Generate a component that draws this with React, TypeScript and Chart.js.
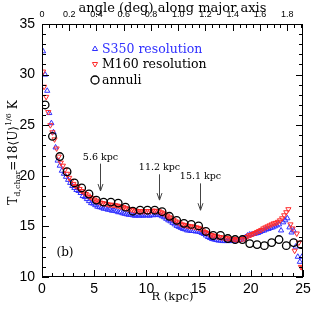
import React, { useEffect, useRef } from 'react';
import { Chart, registerables } from 'chart.js';
import { drawPoint } from 'chart.js/helpers';
Chart.register(...registerables);

// ---------- data ----------
const s350R = [
  0.1, 0.3, 0.5, 0.7, 0.9, 1.1, 1.3, 1.5, 1.7, 1.9,
  2.1, 2.3, 2.5, 2.7, 2.9, 3.1, 3.3, 3.5, 3.7, 3.9,
  4.1, 4.3, 4.5, 4.7, 4.9, 5.1, 5.3, 5.5, 5.7, 5.9,
  6.1, 6.3, 6.5, 6.7, 6.9, 7.1, 7.3, 7.5, 7.7, 7.9,
  8.1, 8.3, 8.5, 8.7, 8.9, 9.1, 9.3, 9.5, 9.7, 9.9,
  10.1, 10.3, 10.5, 10.7, 10.9, 11.1, 11.3, 11.5, 11.7, 11.9,
  12.1, 12.3, 12.5, 12.7, 12.9, 13.1, 13.3, 13.5, 13.7, 13.9,
  14.1, 14.3, 14.5, 14.7, 14.9, 15.1, 15.3, 15.5, 15.7, 15.9,
  16.1, 16.3, 16.5, 16.7, 16.9, 17.1, 17.3, 17.5, 17.7, 17.9,
  18.1, 18.3, 18.5, 18.7, 18.9, 19.1, 19.3, 19.5, 19.7, 19.9,
  20.1, 20.3, 20.5, 20.7, 20.9, 21.1, 21.3, 21.5, 21.7, 21.9,
  22.1, 22.3, 22.5, 22.7, 22.9, 23.1, 23.3, 23.5, 23.7, 23.9,
  24.1, 24.3, 24.5, 24.7, 24.9,
];
const s350T = [
  32.3, 30.0, 28.4, 26.2, 25.2, 24.3, 22.8, 21.5, 21.0, 20.5,
  20.2, 19.9, 19.6, 19.3, 19.0, 18.8, 18.6, 18.5, 18.3, 18.0,
  17.9, 17.7, 17.5, 17.3, 17.25, 17.1, 16.95, 16.9, 16.85, 16.75,
  16.75, 16.65, 16.65, 16.55, 16.55, 16.5, 16.4, 16.4, 16.3, 16.25,
  16.2, 16.15, 16.15, 16.1, 16.05, 16.1, 16.05, 16.1, 16.05, 16.1,
  16.1, 16.05, 16.15, 16.1, 16.15, 16.15, 16.1, 16.0, 15.9, 15.75,
  15.6, 15.5, 15.35, 15.2, 15.05, 14.95, 14.85, 14.75, 14.7, 14.6,
  14.6, 14.55, 14.55, 14.5, 14.5, 14.45, 14.35, 14.25, 14.1, 13.95,
  13.85, 13.75, 13.7, 13.65, 13.6, 13.6, 13.55, 13.55, 13.55, 13.55,
  13.55, 13.6, 13.6, 13.65, 13.65, 13.7, 13.8, 13.95, 14.1, 14.2,
  14.2, 14.25, 14.3, 14.35, 14.45, 14.55, 14.6, 14.7, 14.75, 14.85,
  14.9, 15.0, 15.1, 15.2, 14.6, 15.4, 15.6, 15.8, 14.9, 14.4,
  14.6, 13.0, 12.0, 11.5, 12.0,
];
const m160R = [
  0.1,
  0.2, 0.4, 0.6, 0.8, 1.0, 1.2, 1.4, 1.6, 1.8, 2.0,
  2.2, 2.4, 2.6, 2.8, 3.0, 3.2, 3.4, 3.6, 3.8, 4.0,
  4.2, 4.4, 4.6, 4.8, 5.0, 5.2, 5.4, 5.6, 5.8, 6.0,
  6.2, 6.4, 6.6, 6.8, 7.0, 7.2, 7.4, 7.6, 7.8, 8.0,
  8.2, 8.4, 8.6, 8.8, 9.0, 9.2, 9.4, 9.6, 9.8, 10.0,
  10.2, 10.4, 10.6, 10.8, 11.0, 11.2, 11.4, 11.6, 11.8, 12.0,
  12.2, 12.4, 12.6, 12.8, 13.0, 13.2, 13.4, 13.6, 13.8, 14.0,
  14.2, 14.4, 14.6, 14.8, 15.0, 15.2, 15.4, 15.6, 15.8, 16.0,
  16.2, 16.4, 16.6, 16.8, 17.0, 17.2, 17.4, 17.6, 17.8, 18.0,
  18.2, 18.4, 18.6, 18.8, 19.0, 19.2, 19.4, 19.6, 19.8, 20.0,
  20.2, 20.4, 20.6, 20.8, 21.0, 21.2, 21.4, 21.6, 21.8, 22.0,
  22.2, 22.4, 22.6, 22.8, 23.0, 23.2, 23.4, 23.6, 23.8, 24.0,
  24.2, 24.4, 24.6, 24.8, 24.95,
];
const m160T = [
  30.3,
  28.8, 27.8, 26.3, 25.0, 24.3, 23.6, 22.7, 21.9, 21.3, 21.0,
  20.6, 20.2, 19.8, 19.5, 19.2, 19.0, 18.9, 18.7, 18.5, 18.35,
  18.2, 18.05, 17.9, 17.8, 17.65, 17.55, 17.45, 17.35, 17.3, 17.25,
  17.2, 17.15, 17.15, 17.1, 17.1, 17.05, 17.0, 16.95, 16.9, 16.8,
  16.75, 16.7, 16.65, 16.6, 16.55, 16.5, 16.5, 16.5, 16.5, 16.5,
  16.5, 16.5, 16.55, 16.55, 16.5, 16.5, 16.4, 16.3, 16.2, 16.05,
  15.9, 15.8, 15.65, 15.5, 15.4, 15.3, 15.2, 15.15, 15.1, 15.05,
  15.0, 15.0, 14.95, 14.9, 14.85, 14.75, 14.6, 14.45, 14.35, 14.25,
  14.15, 14.1, 14.05, 14.0, 13.95, 13.9, 13.9, 13.85, 13.8, 13.8,
  13.75, 13.75, 13.7, 13.7, 13.7, 13.75, 13.8, 13.95, 14.1, 14.15,
  14.25, 14.35, 14.45, 14.55, 14.65, 14.8, 14.9, 15.0, 15.1, 15.2,
  15.3, 15.35, 15.45, 15.6, 15.8, 16.1, 16.4, 16.7, 15.2, 14.8,
  12.6, 14.3, 13.4, 11.0, 10.9,
];
const annuliR = [
  0.3, 1.0, 1.7, 2.4, 3.1, 3.8, 4.5, 5.2, 5.9, 6.6, 7.3, 8.0,
  8.7, 9.4, 10.1, 10.8, 11.5, 12.2, 12.9, 13.6, 14.3, 15.0, 15.7, 16.4,
  17.1, 17.8, 18.5, 19.2, 19.9, 20.6, 21.3, 22.0, 22.7, 23.4, 24.1, 24.8,
];
const annuliT = [
  27.0, 23.9, 21.9, 20.4, 19.3, 18.8, 18.2, 17.6, 17.4, 17.4, 17.3, 16.9,
  16.5, 16.6, 16.6, 16.6, 16.45, 16.0, 15.6, 15.3, 15.2, 15.05, 14.5, 14.1,
  14.1, 13.8, 13.7, 13.7, 13.3, 13.2, 13.1, 13.4, 13.7, 13.1, 13.4, 13.2,
];
const seriesLabels = ['S350 resolution', 'M160 resolution', 'annuli'];

const arrowR = [5.6, 11.2, 15.1];
const arrowFromT = [21.2, 20.15, 19.25];
const arrowToT = [18.5, 17.6, 16.6];
const arrowLabels = ['5.6 kpc', '11.2 kpc', '15.1 kpc'];
const panelLabel = '(b)';
const panelLabelR = 2.2;
const panelLabelT = 12.4;

const xMin = 0, xMax = 25, yMin = 10, yMax = 35;
const kpcPerDeg = 13.05;
const degMax = xMax / kpcPerDeg;

const BLUE = '#3030ff';
const RED = '#ff2a2a';
const SERIF = '"DejaVu Serif", serif';
const SANS = '"Liberation Sans", Arial, sans-serif';

const decorPlugin = {
  id: 'decor',
  afterDraw(chart: any) {
    const { ctx, chartArea: a, scales } = chart;
    const xs = scales.x, ys = scales.y, x2 = scales.x2;
    ctx.save();
    ctx.strokeStyle = '#000';
    ctx.lineWidth = 1;
    const line = (x1: number, y1: number, xB: number, yB: number) => {
      ctx.beginPath(); ctx.moveTo(x1, y1); ctx.lineTo(xB, yB); ctx.stroke();
    };
    // frame
    ctx.strokeRect(Math.round(a.left) + 0.5, Math.round(a.top) + 0.5,
      Math.round(a.right - a.left) - 1, Math.round(a.bottom - a.top) - 1);
    // y ticks (left and right, inward)
    for (let v = yMin; v <= yMax; v++) {
      const p = Math.round(ys.getPixelForValue(v)) + 0.5;
      const len = v % 5 === 0 ? 7 : 4;
      line(a.left, p, a.left + len, p);
      line(a.right, p, a.right - len, p);
    }
    // bottom ticks
    for (let v = xMin; v <= xMax; v++) {
      const p = Math.round(xs.getPixelForValue(v)) + 0.5;
      const len = v % 5 === 0 ? 7 : 4;
      line(p, a.bottom, p, a.bottom - len);
    }
    // top ticks (angle)
    for (let k = 0; k * 0.05 <= degMax + 1e-9; k++) {
      const p = Math.round(x2.getPixelForValue(k * 0.05)) + 0.5;
      const len = k % 4 === 0 ? 7 : 4;
      line(p, a.top, p, a.top + len);
    }

    // legend
    const ds = chart.data.datasets;
    ctx.font = '12.5px ' + SERIF;
    ctx.textBaseline = 'middle';
    ctx.textAlign = 'left';
    const rowsY = [a.top + 25, a.top + 40, a.top + 56];
    for (let i = 0; i < 3; i++) {
      const d: any = ds[i];
      ctx.strokeStyle = d.borderColor;
      ctx.fillStyle = 'rgba(0,0,0,0)';
      ctx.lineWidth = d.borderWidth;
      drawPoint(ctx, {
        pointStyle: d.pointStyle, rotation: d.rotation || 0,
        radius: i === 2 ? 4 : d.pointRadius, borderWidth: d.borderWidth,
      } as any, a.left + 53, rowsY[i]);
      ctx.fillStyle = i === 0 ? BLUE : '#000';
      ctx.fillText(d.label, a.left + 60, rowsY[i] + 0.5);
    }

    // arrows with labels
    ctx.strokeStyle = '#444';
    ctx.fillStyle = '#000';
    ctx.lineWidth = 1;
    ctx.font = '9.5px ' + SERIF;
    ctx.textAlign = 'center';
    ctx.textBaseline = 'alphabetic';
    for (let i = 0; i < arrowR.length; i++) {
      const x = Math.round(xs.getPixelForValue(arrowR[i])) + 0.5;
      const y0 = ys.getPixelForValue(arrowFromT[i]);
      const y1 = ys.getPixelForValue(arrowToT[i]);
      line(x, y0, x, y1);
      ctx.beginPath();
      ctx.moveTo(x - 2.5, y1 - 7); ctx.lineTo(x, y1); ctx.lineTo(x + 2.5, y1 - 7);
      ctx.stroke();
      ctx.fillText(arrowLabels[i], x, y0 - 4);
    }

    // panel label
    ctx.font = '12px ' + SERIF;
    ctx.textBaseline = 'middle';
    ctx.fillText(panelLabel, xs.getPixelForValue(panelLabelR), ys.getPixelForValue(panelLabelT));

    // y title with sub/superscripts
    const big = '12px ' + SERIF;
    const small = '8px ' + SERIF;
    const parts = [
      { t: 'T', f: big, dy: 0 },
      { t: 'd,char', f: small, dy: 3 },
      { t: '=18⟨U⟩', f: big, dy: 0 },
      { t: '1/6', f: small, dy: -6 },
      { t: ' K', f: big, dy: 0 },
    ];
    let total = 0;
    const widths = parts.map((p) => { ctx.font = p.f; const w = ctx.measureText(p.t).width; total += w; return w; });
    ctx.translate(17, (a.top + a.bottom) / 2 + 2);
    ctx.rotate(-Math.PI / 2);
    ctx.textAlign = 'left';
    ctx.textBaseline = 'alphabetic';
    let cx = -total / 2;
    parts.forEach((p, i) => { ctx.font = p.f; ctx.fillText(p.t, cx, p.dy); cx += widths[i]; });
    ctx.restore();
  },
};

export default function App() {
  const ref = useRef<HTMLCanvasElement | null>(null);
  useEffect(() => {
    if (!ref.current) return;
    const chart = new Chart(ref.current, {
      type: 'scatter',
      data: {
        datasets: [
          {
            label: seriesLabels[0],
            data: s350R.map((r, i) => ({ x: r, y: s350T[i] })),
            pointStyle: 'triangle', pointRadius: 3, borderColor: BLUE,
            backgroundColor: 'rgba(0,0,0,0)', borderWidth: 1, order: 3,
          } as any,
          {
            label: seriesLabels[1],
            data: m160R.map((r, i) => ({ x: r, y: m160T[i] })),
            pointStyle: 'triangle', rotation: 180, pointRadius: 3, borderColor: RED,
            backgroundColor: 'rgba(0,0,0,0)', borderWidth: 1, order: 2,
          } as any,
          {
            label: seriesLabels[2],
            data: annuliR.map((r, i) => ({ x: r, y: annuliT[i] })),
            pointStyle: 'circle', pointRadius: 3.8, borderColor: '#000',
            backgroundColor: 'rgba(0,0,0,0)', borderWidth: 1.3, order: 1,
          } as any,
        ],
      },
      options: {
        responsive: false,
        animation: false,
        devicePixelRatio: 1,
        events: [],
        layout: { padding: { left: 0, right: 11, top: 0, bottom: 0 } },
        plugins: { legend: { display: false }, tooltip: { enabled: false } },
        scales: {
          x: {
            type: 'linear', position: 'bottom', min: xMin, max: xMax,
            grid: { display: false, drawTicks: false },
            border: { display: false },
            ticks: { stepSize: 5, color: '#000', padding: 4, maxRotation: 0, font: { family: SANS, size: 14 } },
            title: { display: true, text: 'R (kpc)', color: '#000', padding: { top: 0, bottom: 11 }, font: { family: SERIF, size: 11.5 } },
            afterFit: (s: any) => { s.height = 38; s.paddingLeft = 0; s.paddingRight = 0; },
          },
          x2: {
            type: 'linear', position: 'top', min: 0, max: degMax,
            grid: { display: false, drawTicks: false },
            border: { display: false },
            ticks: { stepSize: 0.2, includeBounds: false, color: '#000', padding: 4, maxRotation: 0, font: { family: SANS, size: 9 } },
            title: { display: true, text: 'angle (deg) along major axis', color: '#000', padding: { top: 2.5, bottom: 0 }, font: { family: SERIF, size: 13, lineHeight: 1 } },
            afterFit: (s: any) => { s.height = 24; s.paddingLeft = 0; s.paddingRight = 0; },
          },
          y: {
            type: 'linear', position: 'left', min: yMin, max: yMax,
            grid: { display: false, drawTicks: false },
            border: { display: false },
            ticks: { stepSize: 5, color: '#000', padding: 7, font: { family: SANS, size: 14 } },
            afterFit: (s: any) => { s.width = 42; s.paddingTop = 0; s.paddingBottom = 0; },
          },
        },
      } as any,
      plugins: [decorPlugin],
    });
    return () => chart.destroy();
  }, []);
  return (
    <div style={{ position: 'absolute', left: 0, top: 0, width: 314, height: 315, background: '#fff' }}>
      <canvas ref={ref} width={314} height={315} style={{ width: 314, height: 315, display: 'block' }} />
    </div>
  );
}
